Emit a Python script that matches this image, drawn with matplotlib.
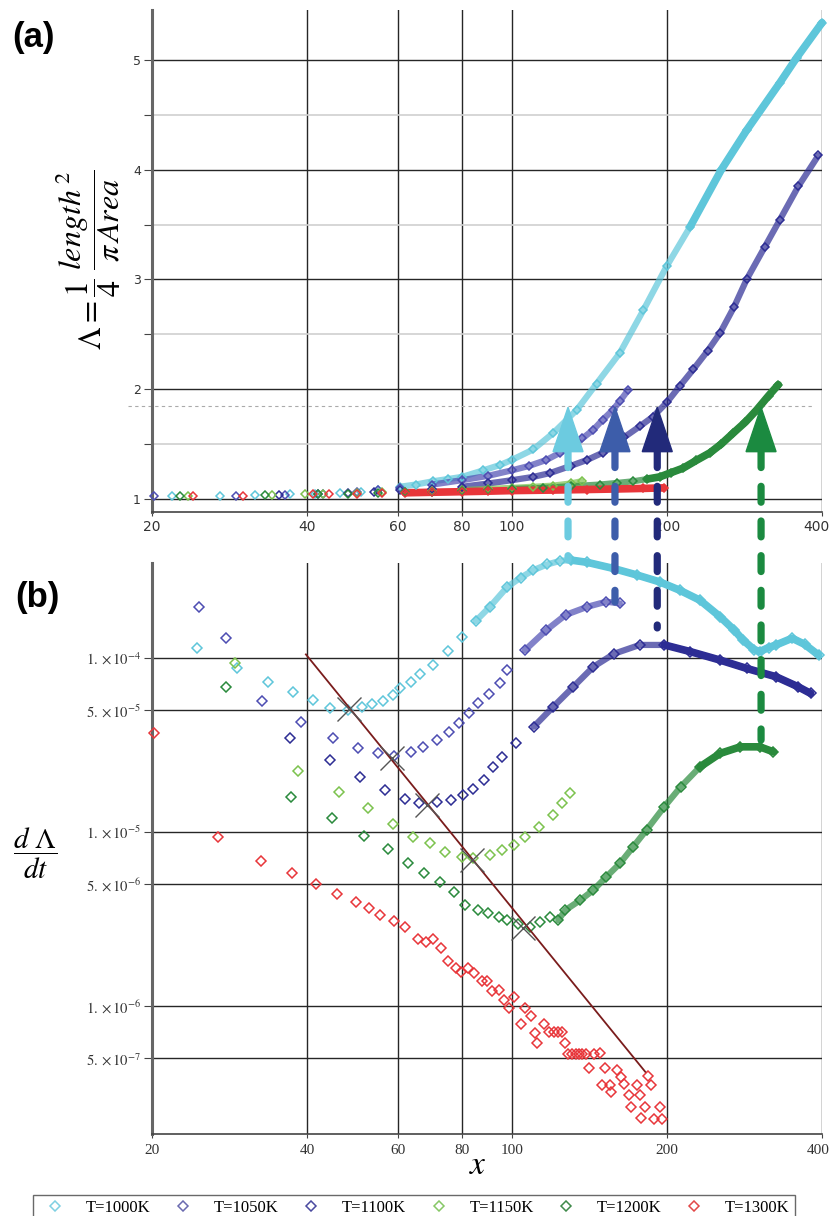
"""Two-panel shape-factor figure: (a) Lambda vs x, (b) dLambda/dt vs x (log-log)."""

import matplotlib
matplotlib.use("Agg")  # headless
import matplotlib.pyplot as plt
import matplotlib.transforms as mtransforms
import numpy as np
from matplotlib.lines import Line2D
from matplotlib.patches import ConnectionPatch
from matplotlib.ticker import NullLocator

plt.rcParams["mathtext.fontset"] = "stix"

LABELS = ["T=1000K", "T=1050K", "T=1100K", "T=1150K", "T=1200K", "T=1300K"]

# ---- panel (a): Lambda = (1/4) length^2 / (pi Area) ----
A_X_1000 = [21.9, 27.1, 31.7, 37.0, 41.5, 46.4, 51, 55, 60.6, 65, 70.2, 75, 80, 88, 95,
            100, 110, 120.3, 133.6, 146, 162, 180, 199.7, 221.8, 255, 285.6, 331, 357, 400]
A_Y_1000 = [1.03, 1.03, 1.035, 1.04, 1.045, 1.05, 1.06, 1.08, 1.11, 1.13, 1.16, 1.18, 1.20, 1.26, 1.31,
            1.355, 1.45, 1.60, 1.81, 2.05, 2.33, 2.72, 3.12, 3.48, 4.0, 4.36, 4.79, 5.02, 5.34]
A_X_1050 = [20.2, 29.1, 36.3, 43, 50, 55, 60.6, 70, 80, 90, 100, 108, 116.7, 124, 131.6,
            137, 143.9, 150, 157, 162, 168]
A_Y_1050 = [1.03, 1.03, 1.035, 1.045, 1.06, 1.08, 1.10, 1.13, 1.17, 1.21, 1.26, 1.30, 1.355, 1.42, 1.48,
            1.55, 1.63, 1.72, 1.81, 1.89, 1.99]
A_X_1100 = [35.3, 42, 48, 54, 60.6, 70, 80, 90, 100, 110, 118.6, 130, 140, 150, 157, 165, 177,
            188, 200, 212, 225, 240, 253.5, 270, 285.6, 310, 331, 360, 393.6]
A_Y_1100 = [1.035, 1.04, 1.05, 1.06, 1.08, 1.09, 1.11, 1.14, 1.17, 1.20, 1.235, 1.30, 1.355, 1.42, 1.48, 1.56, 1.66,
            1.75, 1.88, 2.03, 2.18, 2.35, 2.51, 2.75, 3.0, 3.3, 3.54, 3.85, 4.13]
A_X_1150 = [23.5, 34.2, 39.6, 42.9, 50, 56, 62, 70, 80, 90, 100, 110, 120, 130, 136.5]
A_Y_1150 = [1.03, 1.035, 1.04, 1.04, 1.05, 1.06, 1.065, 1.07, 1.08, 1.09, 1.10, 1.11, 1.12, 1.14, 1.16]
A_X_1200 = [22.7, 33.1, 42.1, 48, 55, 62, 70, 80, 90, 100, 115, 130, 148, 160, 172, 183,
            193.6, 204, 215, 228, 242.4, 255, 269, 284, 298.6, 315, 329]
A_Y_1200 = [1.03, 1.035, 1.04, 1.045, 1.05, 1.06, 1.065, 1.07, 1.08, 1.09, 1.10, 1.115, 1.13, 1.145, 1.16, 1.18,
            1.20, 1.24, 1.28, 1.35, 1.42, 1.50, 1.60, 1.70, 1.81, 1.94, 2.04]
A_X_1300 = [24.0, 30.1, 41.0, 44.1, 50, 56, 62, 70, 80, 90, 100, 120, 140, 160, 180, 197]
A_Y_1300 = [1.03, 1.03, 1.04, 1.04, 1.045, 1.05, 1.055, 1.06, 1.065, 1.07, 1.075, 1.08, 1.085, 1.09, 1.095, 1.10]

# ---- panel (b): dLambda/dt ----
B_X_1000 = [24.5, 29.3, 33.6, 37.5, 41.0, 44.3, 48.0, 51.1, 53.4, 56.2, 58.8, 60.7, 63.6, 66.4, 70.3,
            75, 80, 85, 90.6, 98, 104, 110, 117, 124, 130, 140, 157, 175, 193.6, 212, 231.8,
            253.5, 270, 281, 295, 303, 315, 325.7, 350, 370, 394]
B_Y_1000 = [1.146e-4, 8.72e-5, 7.31e-5, 6.35e-5, 5.71e-5, 5.18e-5, 5.05e-5, 5.25e-5, 5.44e-5, 5.66e-5,
            6.13e-5, 6.70e-5, 7.31e-5, 8.1e-5, 9.1e-5, 1.1e-4, 1.33e-4, 1.63e-4, 1.97e-4, 2.57e-4,
            2.9e-4, 3.2e-4, 3.45e-4, 3.62e-4, 3.66e-4, 3.55e-4, 3.28e-4, 3.0e-4, 2.74e-4, 2.45e-4,
            2.15e-4, 1.73e-4, 1.45e-4, 1.27e-4, 1.12e-4, 1.09e-4, 1.15e-4, 1.19e-4, 1.30e-4, 1.2e-4, 1.04e-4]
B_X_1050 = [24.7, 27.8, 32.7, 39.0, 45.0, 50.3, 54.9, 59.1, 63.7, 67.3, 71.5, 75.5, 78.9, 82.5,
            86.1, 90.1, 94.8, 98.0, 106, 116.7, 127.1, 140, 152.5, 162]
B_Y_1050 = [1.96e-4, 1.31e-4, 5.66e-5, 4.30e-5, 3.48e-5, 3.03e-5, 2.83e-5, 2.73e-5, 2.89e-5, 3.09e-5,
            3.38e-5, 3.77e-5, 4.25e-5, 4.81e-5, 5.49e-5, 6.21e-5, 7.16e-5, 8.53e-5, 1.11e-4, 1.45e-4,
            1.77e-4, 1.97e-4, 2.11e-4, 2.06e-4]
B_X_1100 = [37.0, 44.3, 50.6, 56.8, 61.9, 65.9, 71.5, 76.0, 80.4, 84.2, 88.2, 92.0, 95.6, 102.0,
            110.2, 120.3, 131.6, 143.9, 158, 177, 197.7, 221.8, 253.5, 285.6, 325.7, 359.5, 380]
B_Y_1100 = [3.45e-5, 2.60e-5, 2.06e-5, 1.74e-5, 1.54e-5, 1.46e-5, 1.49e-5, 1.53e-5, 1.63e-5, 1.78e-5,
            1.99e-5, 2.37e-5, 2.71e-5, 3.24e-5, 4.03e-5, 5.25e-5, 6.84e-5, 8.91e-5, 1.06e-4, 1.19e-4,
            1.19e-4, 1.09e-4, 9.74e-5, 8.72e-5, 7.81e-5, 6.84e-5, 6.27e-5]
B_X_1150 = [29.0, 38.4, 46.2, 52.6, 58.7, 64.3, 69.4, 74.0, 80, 84, 90.7, 95.6, 101, 106, 113,
            120.3, 125.3, 129.7]
B_Y_1150 = [9.4e-5, 2.24e-5, 1.69e-5, 1.37e-5, 1.11e-5, 9.4e-6, 8.6e-6, 7.7e-6, 7.2e-6, 7.06e-6,
            7.4e-6, 7.9e-6, 8.4e-6, 9.4e-6, 1.07e-5, 1.25e-5, 1.46e-5, 1.67e-5]
B_X_1200 = [27.9, 37.3, 44.8, 51.5, 57.4, 62.9, 67.6, 72.5, 77.3, 81.0, 86.1, 90.0, 94.4, 97.6,
            102.6, 108.5, 113.5, 118.5, 123, 127.0, 135.7, 143.9, 152.5, 162, 172, 182.6, 197.7,
            212.7, 231.8, 253.5, 277.6, 303, 322]
B_Y_1200 = [6.84e-5, 1.60e-5, 1.21e-5, 9.5e-6, 7.96e-6, 6.67e-6, 5.79e-6, 5.18e-6, 4.54e-6, 3.80e-6,
            3.56e-6, 3.41e-6, 3.26e-6, 3.12e-6, 2.98e-6, 2.86e-6, 3.05e-6, 3.26e-6, 3.12e-6, 3.56e-6,
            4.06e-6, 4.64e-6, 5.53e-6, 6.6e-6, 8.24e-6, 1.03e-5, 1.40e-5, 1.82e-5, 2.37e-5, 2.83e-5,
            3.09e-5, 3.09e-5, 2.89e-5]
B_X_1300 = [20.2, 26.9, 32.6, 37.4, 41.7, 45.7, 49.7, 52.7, 55.5, 59.1, 61.9, 65.8, 68.0, 70.3, 72.7,
            75.2, 77.8, 79.5, 82, 84.3, 87.3, 89.3, 91.5, 94.5, 96.5, 98.5, 101, 104, 106, 109,
            111, 112, 115.5, 118, 120.5, 123, 125, 127, 128.7, 131, 133, 135, 137, 139, 141,
            144, 148, 149.6, 151.3, 155, 156, 159.6, 162.9, 165, 168.4, 170.2, 174.7, 176.9, 178.2,
            181.5, 184, 186.4, 189, 193.8, 195.7]
B_Y_1300 = [3.72e-5, 9.4e-6, 6.84e-6, 5.79e-6, 5.03e-6, 4.40e-6, 3.98e-6, 3.64e-6, 3.34e-6, 3.08e-6,
            2.83e-6, 2.42e-6, 2.34e-6, 2.43e-6, 2.16e-6, 1.82e-6, 1.65e-6, 1.57e-6, 1.65e-6, 1.55e-6,
            1.39e-6, 1.39e-6, 1.22e-6, 1.23e-6, 1.08e-6, 9.7e-7, 1.13e-6, 7.9e-7, 9.7e-7, 8.8e-7,
            7.0e-7, 6.15e-7, 7.9e-7, 7.06e-7, 7.06e-7, 7.06e-7, 7.06e-7, 6.15e-7, 5.27e-7, 5.27e-7,
            5.27e-7, 5.27e-7, 5.27e-7, 5.27e-7, 4.38e-7, 5.27e-7, 5.35e-7, 3.52e-7, 4.38e-7, 3.52e-7,
            3.22e-7, 4.28e-7, 3.92e-7, 3.55e-7, 3.08e-7, 2.64e-7, 3.52e-7, 3.08e-7, 2.26e-7, 2.64e-7,
            3.96e-7, 3.52e-7, 2.25e-7, 2.64e-7, 2.23e-7]

# power-law fit through the minima of each curve, and the minima themselves
FIT_X = [39.8, 181.5]
FIT_Y = [1.05e-4, 4.19e-7]
MIN_X = [48.2, 58.6, 68.3, 83.6, 105.2]
MIN_Y = [5.1e-5, 2.65e-5, 1.43e-5, 6.9e-6, 2.8e-6]

# arrows: x position, Lambda threshold, and where they start in panel (b)
ARROW_X = [128.5, 158.5, 191.5, 304.6]
ARROW_B_Y = [3.66e-4, 2.1e-4, 1.49e-4, 3.38e-5]
ARROW_COLORS = ["#6ccbe0", "#3d5daa", "#222a7a", "#1b8a40"]
LAMBDA_CRIT = 1.845
HEAD_BASE = 1.43

X_TICKS = [20, 40, 60, 80, 100, 200, 400]
B_TICKS = [5e-7, 1e-6, 5e-6, 1e-5, 5e-5, 1e-4]
B_TICK_LABELS = [r"$5.\times10^{-7}$", r"$1.\times10^{-6}$", r"$5.\times10^{-6}$",
                 r"$1.\times10^{-5}$", r"$5.\times10^{-5}$", r"$1.\times10^{-4}$"]

A_DATA = dict(zip(LABELS, [(A_X_1000, A_Y_1000), (A_X_1050, A_Y_1050), (A_X_1100, A_Y_1100),
                           (A_X_1150, A_Y_1150), (A_X_1200, A_Y_1200), (A_X_1300, A_Y_1300)]))
B_DATA = dict(zip(LABELS, [(B_X_1000, B_Y_1000), (B_X_1050, B_Y_1050), (B_X_1100, B_Y_1100),
                           (B_X_1150, B_Y_1150), (B_X_1200, B_Y_1200), (B_X_1300, B_Y_1300)]))

COLORS = {"T=1000K": "#5ec6da", "T=1050K": "#4d4db2", "T=1100K": "#2d2d94",
          "T=1150K": "#7cc24e", "T=1200K": "#2a8a3c", "T=1300K": "#e8363a"}
LEGEND_COLORS = ["#7fd0e2", "#6a6ab0", "#4a4aa0", "#86c866", "#3f8a4a", "#e24848"]

# where the markers get so dense they read as a band (chain) / solid line
A_BAND = {"T=1000K": (60, 200), "T=1050K": (70, 1e9), "T=1100K": (80, 1e9),
          "T=1150K": (80, 1e9), "T=1200K": (100, 180), "T=1300K": (60, 60)}
B_BAND = {"T=1000K": (85, 130), "T=1050K": (100, 1e9), "T=1100K": (110, 190),
          "T=1150K": (1e9, 1e9), "T=1200K": (120, 220), "T=1300K": (1e9, 1e9)}

GRID_DARK = "#262626"
GRID_LIGHT = "#d0d0d0"
SERIF = ["Liberation Serif", "DejaVu Serif"]


def draw_series(ax, x, y, color, band, ms):
    x = np.asarray(x)
    y = np.asarray(y)
    chain_from, solid_from = band
    m = x >= chain_from
    if m.sum() > 1:
        ax.plot(x[m], y[m], color=color, lw=4.5, alpha=0.7, solid_capstyle="round",
                clip_on=False, zorder=3)
    s = x >= solid_from
    if s.sum() > 1:
        ax.plot(x[s], y[s], color=color, lw=5.5, solid_capstyle="round",
                clip_on=False, zorder=3)
    ax.plot(x, y, ls="none", marker="D", ms=ms, mfc="none", mec=color, mew=1.1,
            clip_on=False, zorder=4)


def style_axis(ax):
    ax.set_xscale("log")
    ax.set_xlim(20, 400)
    ax.set_xticks(X_TICKS)
    ax.xaxis.set_minor_locator(NullLocator())
    for side in ("top", "right"):
        ax.spines[side].set_visible(False)
    ax.spines["left"].set_color("#666666")
    ax.spines["left"].set_linewidth(2.2)
    ax.spines["bottom"].set_color("#444444")
    ax.spines["bottom"].set_linewidth(1.2)
    ax.tick_params(which="both", direction="out", width=0.8, color="#444444")
    ax.tick_params(axis="x", length=3)
    ax.tick_params(axis="y", which="both", length=6, pad=2)


def nudge_last_xlabel(ax, fig):
    # "400" sits on the right edge of the picture
    lab = ax.get_xticklabels()[-1]
    lab.set_horizontalalignment("right")
    lab.set_transform(lab.get_transform()
                      + mtransforms.ScaledTranslation(8 / 100, 0, fig.dpi_scale_trans))


fig = plt.figure(figsize=(8.31, 12.16), dpi=100)
ax_a = fig.add_axes([0.18291, 0.57895, 0.80626, 0.41283])
ax_b = fig.add_axes([0.18291, 0.06743, 0.80626, 0.46924])

# ---- panel (a) ----
style_axis(ax_a)
ax_a.set_ylim(0.88, 5.456)
ax_a.set_yticks([1, 2, 3, 4, 5])
ax_a.set_yticks([1.5, 2.5, 3.5, 4.5], minor=True)
ax_a.set_xticklabels([str(v) for v in X_TICKS], fontsize=10, family="DejaVu Sans", color="#333")
ax_a.set_yticklabels(["1", "2", "3", "4", "5"], fontsize=9, family="DejaVu Sans", color="#333")
ax_a.tick_params(axis="x", pad=3)
ax_a.grid(True, which="major", color=GRID_DARK, lw=1.0)
ax_a.grid(True, which="minor", axis="y", color=GRID_LIGHT, lw=1.2)
ax_a.set_axisbelow(True)
ax_a.axhline(LAMBDA_CRIT, xmin=-0.036, xmax=0.985, color="#aaaaaa", lw=0.8,
             ls=(0, (3, 3)), clip_on=False, zorder=2)
nudge_last_xlabel(ax_a, fig)

for lab in LABELS:
    x, y = A_DATA[lab]
    draw_series(ax_a, x, y, COLORS[lab], A_BAND[lab], ms=3.6)

# ---- panel (b) ----
style_axis(ax_b)
ax_b.set_yscale("log")
ax_b.set_ylim(1.84e-7, 3.5e-4)
ax_b.set_yticks(B_TICKS)
ax_b.yaxis.set_minor_locator(NullLocator())
ax_b.set_yticklabels(B_TICK_LABELS, fontsize=10.5, color="#333")
ax_b.set_xticklabels([str(v) for v in X_TICKS], fontsize=11, family=SERIF, color="#333")
ax_b.tick_params(axis="x", pad=4)
ax_b.grid(True, which="major", color=GRID_DARK, lw=1.0)
ax_b.set_axisbelow(True)
nudge_last_xlabel(ax_b, fig)

for lab in LABELS:
    x, y = B_DATA[lab]
    draw_series(ax_b, x, y, COLORS[lab], B_BAND[lab], ms=5.2)

ax_b.plot(FIT_X, FIT_Y, color="#7a1c1c", lw=1.3, zorder=5)
ax_b.plot(MIN_X, MIN_Y, ls="none", marker="x", ms=17, mew=1.0, color="#555555", zorder=6)

# ---- arrows linking the maxima in (b) to the threshold in (a) ----
half = 10 ** (15 / 515)  # half width of the arrow head, ~15 px on the log axis
for xa, yb, c in zip(ARROW_X, ARROW_B_Y, ARROW_COLORS):
    con = ConnectionPatch(xyA=(xa, HEAD_BASE), coordsA=ax_a.transData,
                          xyB=(xa, yb), coordsB=ax_b.transData,
                          color=c, lw=5.2, linestyle=(0, (2.2, 2.6)), zorder=8)
    fig.add_artist(con)
    ax_a.fill([xa / half, xa * half, xa], [HEAD_BASE, HEAD_BASE, LAMBDA_CRIT - 0.01],
              color=c, zorder=8, clip_on=False)

# ---- labels ----
fig.text(88 / 831, 1 - 260 / 1216, r"$\Lambda = \dfrac{1}{4}\;\dfrac{length^{\,2}}{\pi\, Area}$",
         rotation=90, fontsize=23, ha="center", va="center")
fig.text(35 / 831, 1 - 853 / 1216, r"$\dfrac{d\ \Lambda}{dt}$", fontsize=21,
         ha="center", va="center")
fig.text(478 / 831, 1 - 1165 / 1216, r"$x$", fontsize=24, ha="center", va="center")
fig.text(0.015, 1 - 38 / 1216, "(a)", fontsize=25, fontweight="bold",
         family="Liberation Sans", va="center")
fig.text(0.018, 1 - 598 / 1216, "(b)", fontsize=25, fontweight="bold",
         family="Liberation Sans", va="center")

handles = [Line2D([], [], ls="none", marker="D", ms=5.5, mfc="none", mec=c, mew=1.1)
           for c in LEGEND_COLORS]
fig.legend(handles, LABELS, loc="upper center", bbox_to_anchor=(0.4982, 1 - 1195 / 1216),
           ncol=6, frameon=True, fancybox=False, edgecolor="#444444", borderpad=0.3,
           borderaxespad=0, handlelength=2.0, handletextpad=0.85, columnspacing=0.95,
           prop={"family": SERIF, "size": 12})

fig.savefig("out.png", dpi=100)
plt.close(fig)
